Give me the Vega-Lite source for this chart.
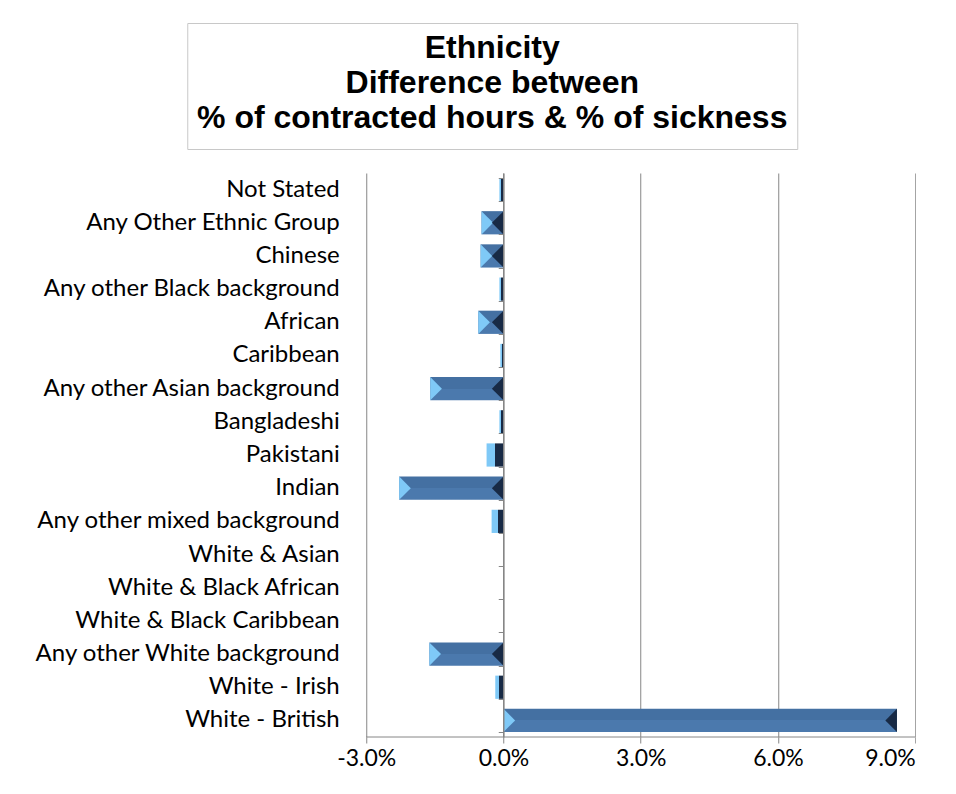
{
  "$schema": "https://vega.github.io/schema/vega-lite/v6.json",
  "autosize": {"type": "pad"},
  "padding": {"left": 33, "top": 22, "right": 0, "bottom": 0},
  "background": "white",
  "center": true,
  "spacing": 23,
  "config": {"font": "Lato", "view": {"stroke": null}},
  "datasets": {
    "ethnicity": [
      {"ethnicity": "Not Stated", "value": -0.0009},
      {"ethnicity": "Any Other Ethnic Group", "value": -0.0048},
      {"ethnicity": "Chinese", "value": -0.005},
      {"ethnicity": "Any other Black background", "value": -0.0009},
      {"ethnicity": "African", "value": -0.0055},
      {"ethnicity": "Caribbean", "value": -0.0007},
      {"ethnicity": "Any other Asian background", "value": -0.016},
      {"ethnicity": "Bangladeshi", "value": -0.0009},
      {"ethnicity": "Pakistani", "value": -0.0037},
      {"ethnicity": "Indian", "value": -0.0228},
      {"ethnicity": "Any other mixed background", "value": -0.0026},
      {"ethnicity": "White & Asian", "value": 0},
      {"ethnicity": "White & Black African", "value": 0},
      {"ethnicity": "White & Black Caribbean", "value": 0},
      {"ethnicity": "Any other White background", "value": -0.0162},
      {"ethnicity": "White - Irish", "value": -0.0018},
      {"ethnicity": "White - British", "value": 0.086}
    ]
  },
  "vconcat": [
    {
      "width": 610,
      "height": 126,
      "view": {"stroke": "#c8c8c8", "fill": "white"},
      "data": {"values": [
        {"line": 1, "text": "Ethnicity"},
        {"line": 2, "text": "Difference between"},
        {"line": 3, "text": "% of contracted hours & % of sickness"}
      ]},
      "mark": {"type": "text", "font": "Liberation Sans", "fontWeight": "bold", "fontSize": 32, "color": "#000000", "baseline": "middle", "dy": -3},
      "encoding": {
        "y": {"field": "line", "type": "ordinal", "axis": null, "scale": {"type": "point", "padding": 0.8}},
        "text": {"field": "text"}
      }
    },
    {
      "width": 846,
      "height": 564,
      "data": {"name": "ethnicity"},
      "resolve": {"axis": {"y": "independent"}},
      "layer": [
        {
          "mark": {"type": "bar"},
          "encoding": {
            "y": {
              "field": "ethnicity", "type": "nominal", "sort": null,
              "scale": {"paddingInner": 0.3, "paddingOuter": 0.15},
              "axis": {"title": null, "orient": "left", "offset": -297, "domain": false, "ticks": false, "tickSize": 0, "labelPadding": 27, "labelFont": "Lato", "labelFontSize": 24, "labelColor": "#000000", "labelLimit": 400}
            },
            "x": {
              "field": "value", "type": "quantitative",
              "scale": {"domain": [-0.094918, 0.09], "nice": false, "zero": false},
              "axis": {"title": null, "values": [-0.03, 0, 0.03, 0.06, 0.09], "format": ".1%", "labelExpr": "replace(datum.label, '\u2212', '-')", "grid": true, "gridColor": "#868686", "gridOpacity": 1, "domain": false, "tickColor": "#868686", "tickSize": 6, "labelFont": "Lato", "labelFontSize": 23, "labelPadding": 4, "labelColor": "#000000"}
            },
            "x2": {"datum": 0},
            "color": {
              "condition": {
                "test": "abs(datum.value) < 0.0045",
                "value": {"gradient": "linear", "x1": 0, "y1": 0, "x2": 1, "y2": 0, "stops": [
                  {"offset": 0, "color": "#7fc9f7"}, {"offset": 0.5, "color": "#7fc9f7"},
                  {"offset": 0.5, "color": "#182a45"}, {"offset": 1, "color": "#182a45"}
                ]}
              },
              "value": {"gradient": "linear", "x1": 0, "y1": 0, "x2": 0, "y2": 1, "stops": [
                {"offset": 0, "color": "#4470a2"}, {"offset": 0.5, "color": "#4470a2"},
                {"offset": 0.5, "color": "#4b79ad"}, {"offset": 1, "color": "#4b79ad"}
              ]}
            }
          }
        },
        {
          "data": {"values": [{}]},
          "mark": {"type": "rule", "color": "#868686", "strokeWidth": 1},
          "encoding": {
            "x": {"datum": -0.03, "type": "quantitative"},
            "x2": {"datum": 0.09},
            "y": {"value": "height"}
          }
        },
        {
          "transform": [{"filter": "datum.value <= -0.0045"}],
          "mark": {"type": "point", "shape": "M0,-1L1,0L0,1Z", "filled": true, "opacity": 1, "strokeWidth": 0, "color": "#7fc9f7", "size": 540},
          "encoding": {
            "y": {
              "field": "ethnicity", "type": "nominal", "sort": null,
              "scale": {"paddingInner": 0.3, "paddingOuter": 0.15},
              "axis": {"title": null, "orient": "left", "offset": -434, "labels": false, "grid": false, "domain": true, "domainColor": "#868686", "domainWidth": 1.5, "ticks": true, "tickBand": "extent", "tickSize": 5, "tickColor": "#868686", "zindex": 1}
            },
            "x": {"field": "value", "type": "quantitative"}
          }
        },
        {
          "transform": [{"filter": "datum.value <= -0.0045"}],
          "mark": {"type": "point", "shape": "M0,-1L-1,0L0,1Z", "filled": true, "opacity": 1, "strokeWidth": 0, "color": "#182a45", "size": 540},
          "encoding": {
            "y": {"field": "ethnicity", "type": "nominal", "sort": null, "scale": {"paddingInner": 0.3, "paddingOuter": 0.15}, "axis": null},
            "x": {"datum": 0, "type": "quantitative"}
          }
        },
        {
          "transform": [{"filter": "datum.value > 0"}],
          "mark": {"type": "point", "shape": "M0,-1L1,0L0,1Z", "filled": true, "opacity": 1, "strokeWidth": 0, "color": "#7fc9f7", "size": 540},
          "encoding": {
            "y": {"field": "ethnicity", "type": "nominal", "sort": null, "scale": {"paddingInner": 0.3, "paddingOuter": 0.15}, "axis": null},
            "x": {"datum": 0, "type": "quantitative"}
          }
        },
        {
          "transform": [{"filter": "datum.value > 0"}],
          "mark": {"type": "point", "shape": "M0,-1L-1,0L0,1Z", "filled": true, "opacity": 1, "strokeWidth": 0, "color": "#182a45", "size": 540},
          "encoding": {
            "y": {"field": "ethnicity", "type": "nominal", "sort": null, "scale": {"paddingInner": 0.3, "paddingOuter": 0.15}, "axis": null},
            "x": {"field": "value", "type": "quantitative"}
          }
        }
      ]
    }
  ]
}
